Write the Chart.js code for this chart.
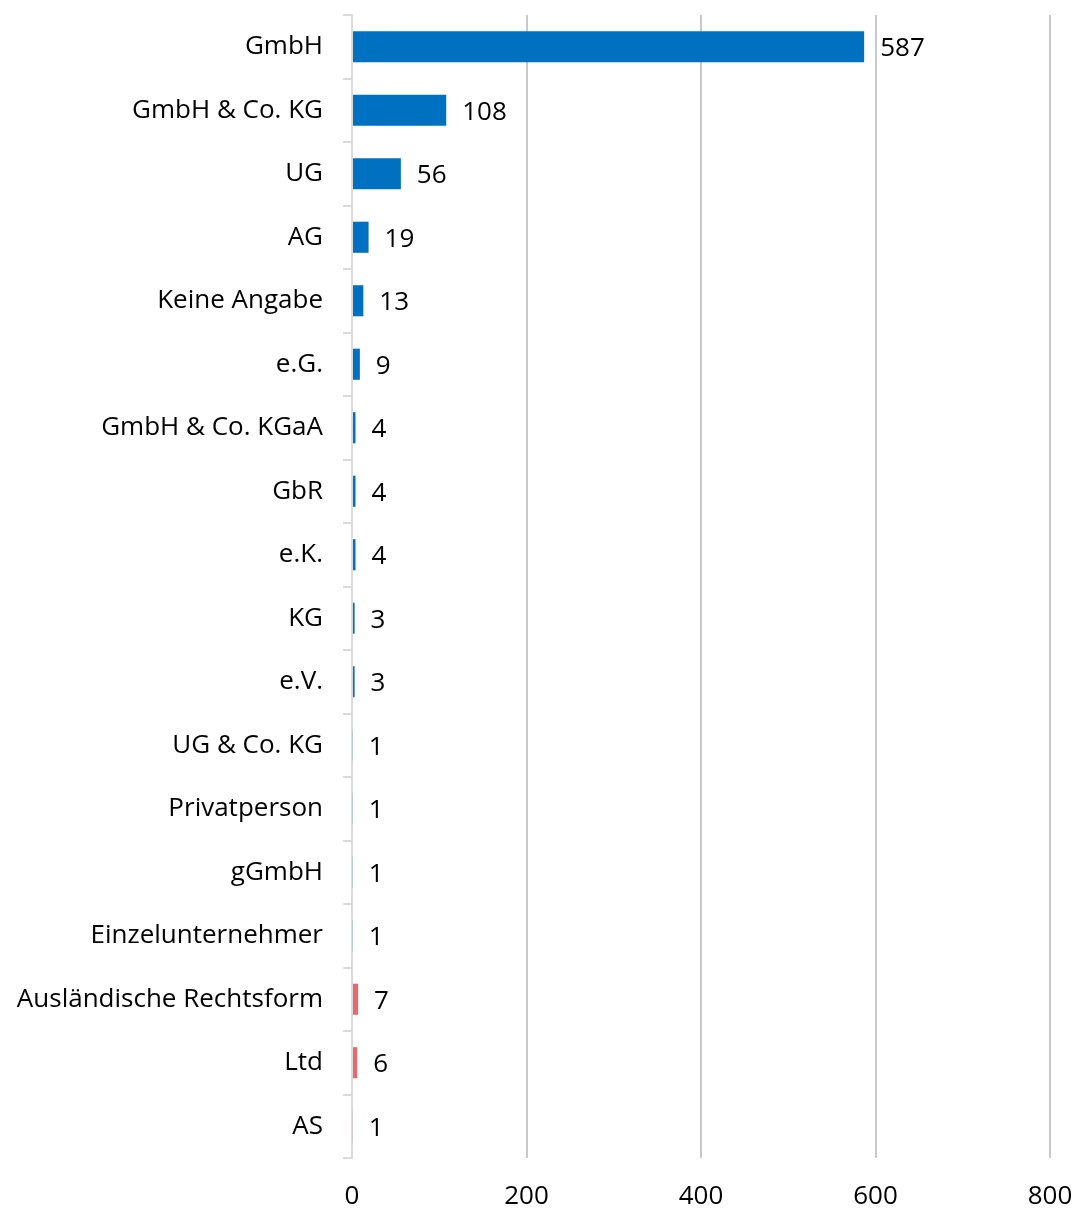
<!DOCTYPE html>
<html>
<head>
<meta charset="utf-8">
<script src="https://cdn.jsdelivr.net/npm/chart.js@4/dist/chart.umd.min.js"></script>
<style>
  html, body { margin: 0; padding: 0; background: #fff; }
  #wrap { width: 1078px; height: 1210px; }
</style>
</head>
<body>
<div id="wrap"><canvas id="c" width="1078" height="1210"></canvas></div>
<script>
const categories = [
  "GmbH", "GmbH & Co. KG", "UG", "AG", "Keine Angabe", "e.G.",
  "GmbH & Co. KGaA", "GbR", "e.K.", "KG", "e.V.", "UG & Co. KG",
  "Privatperson", "gGmbH", "Einzelunternehmer",
  "Ausländische Rechtsform", "Ltd", "AS"
];
const values = [587, 108, 56, 19, 13, 9, 4, 4, 4, 3, 3, 1, 1, 1, 1, 7, 6, 1];
const isForeign = [false, false, false, false, false, false, false, false, false, false, false, false, false, false, false, true, true, true];
const xTicks = [0, 200, 400, 600, 800];

const BLUE = "#0070C0";
const RED = "#E8696B";
const FONT = "'Open Sans'";
const FS = 26;

const valueLabels = {
  id: "valueLabels",
  afterDatasetsDraw(chart) {
    const ctx = chart.ctx;
    const meta = chart.getDatasetMeta(0);
    ctx.save();
    ctx.font = FS + "px " + FONT;
    ctx.fillStyle = "#000";
    ctx.textAlign = "left";
    ctx.textBaseline = "middle";
    meta.data.forEach((bar, i) => {
      ctx.fillText(String(values[i]), bar.x + 16, bar.y + 2);
    });
    ctx.restore();
  }
};

new Chart(document.getElementById("c"), {
  type: "bar",
  data: {
    labels: categories,
    datasets: [{
      data: values,
      backgroundColor: isForeign.map(f => f ? RED : BLUE),
      borderWidth: 0,
      barPercentage: 0.49,
      categoryPercentage: 1
    }]
  },
  options: {
    indexAxis: "y",
    responsive: false,
    animation: false,
    layout: { padding: { left: 0, right: 28, top: 15, bottom: 0 } },
    plugins: { legend: { display: false }, tooltip: { enabled: false } },
    scales: {
      x: {
        min: 0, max: 800,
        afterBuildTicks(scale) { scale.ticks = xTicks.map(v => ({ value: v })); },
        afterFit(scale) { scale.height = 52; scale.paddingLeft = 0; scale.paddingRight = 0; },
        border: { display: false },
        grid: {
          drawTicks: false,
          lineWidth: 2,
          color: ctx => (ctx.tick && ctx.tick.value === 0) ? "rgba(0,0,0,0)" : "#c8c8c8"
        },
        ticks: {
          padding: 23,
          color: "#000",
          font: { family: FONT, size: FS }
        }
      },
      y: {
        afterFit(scale) { scale.width = 352; scale.paddingTop = 0; scale.paddingBottom = 0; },
        border: { display: true, color: "#d9d9d9", width: 2 },
        grid: {
          offset: true,
          drawOnChartArea: false,
          drawTicks: true,
          tickLength: 9,
          lineWidth: 2,
          color: "#d9d9d9"
        },
        ticks: {
          padding: 20,
          color: "#000",
          font: { family: FONT, size: FS }
        }
      }
    }
  },
  plugins: [valueLabels]
});
</script>
</body>
</html>
